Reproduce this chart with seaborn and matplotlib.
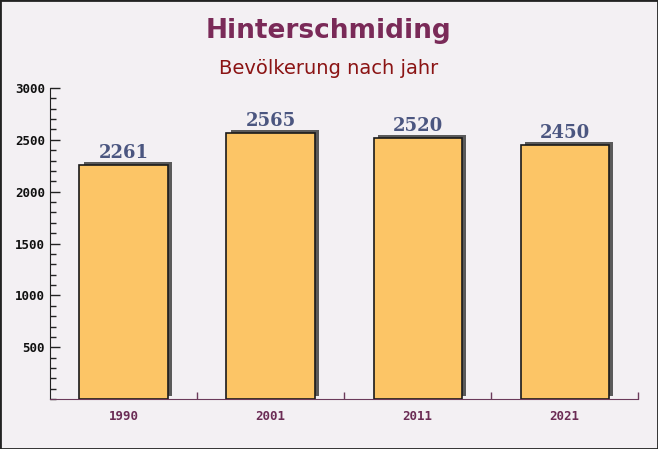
import pandas as pd
import seaborn as sns
import matplotlib.pyplot as plt
import matplotlib.patheffects as pe
from matplotlib.ticker import MultipleLocator, FixedLocator

# population per census year
years = ['1990', '2001', '2011', '2021']
population = [2261, 2565, 2520, 2450]

df = pd.DataFrame({'Jahr': years, 'Einwohner': population})

bg = '#f3f0f3'
sns.set_style('white')

fig = plt.figure(figsize=(6.58, 4.49), dpi=100, facecolor=bg)
ax = fig.add_axes([0.076, 0.111, 0.894, 0.693])
ax.set_facecolor(bg)

sns.barplot(data=df, x='Jahr', y='Einwohner', color='#fcc566', width=0.6,
            saturation=1, edgecolor='#1a1a1a', linewidth=1.2, ax=ax)

# dark offset shadow behind each bar
for bar in ax.patches:
    bar.set_path_effects([pe.SimplePatchShadow(offset=(3, 2.2), shadow_rgbFace='#5a5a5a', alpha=1.0),
                          pe.Normal()])

for i, v in enumerate(population):
    ax.annotate(str(v), (i, v), xytext=(0, 2), textcoords='offset points',
                ha='center', va='bottom', fontsize=13, fontweight='bold',
                family='DejaVu Serif', color='#4b5680')

ax.set_ylim(0, 3000)
ax.set_xlim(-0.5, 3.5)
ax.set_yticks([500, 1000, 1500, 2000, 2500, 3000])
ax.yaxis.set_minor_locator(MultipleLocator(100))
ax.xaxis.set_minor_locator(FixedLocator([0.5, 1.5, 2.5, 3.5]))

ax.tick_params(left=True, bottom=True, which='both')
ax.tick_params(axis='y', which='major', direction='in', length=7, width=1, color='#222222',
               labelsize=9, labelcolor='#111111')
ax.tick_params(axis='y', which='minor', direction='in', length=4, width=1, color='#222222')
ax.tick_params(axis='x', which='major', length=0, labelsize=9, labelcolor='#6b2c55', pad=8)
ax.tick_params(axis='x', which='minor', direction='in', length=5, width=1, color='#6b3a5a')
for lbl in ax.get_xticklabels() + ax.get_yticklabels():
    lbl.set_family('DejaVu Sans Mono')
    lbl.set_fontweight('bold')

ax.set_xlabel('')
ax.set_ylabel('')
for s in ['top', 'right']:
    ax.spines[s].set_visible(False)
ax.spines['left'].set_color('#222222')
ax.spines['bottom'].set_color('#6b3a5a')

fig.text(0.5, 0.93, 'Hinterschmiding', ha='center', va='center', fontsize=19,
         fontweight='bold', color='#7a2a58', family='DejaVu Sans')
fig.text(0.5, 0.848, 'Bevölkerung nach jahr', ha='center', va='center', fontsize=14,
         color='#8b1414', family='DejaVu Sans')

fig.patches.append(plt.Rectangle((0, 0), 1, 1, transform=fig.transFigure, fill=False,
                                 edgecolor='#222222', linewidth=2))

plt.savefig('out.png', dpi=100, facecolor=bg)
